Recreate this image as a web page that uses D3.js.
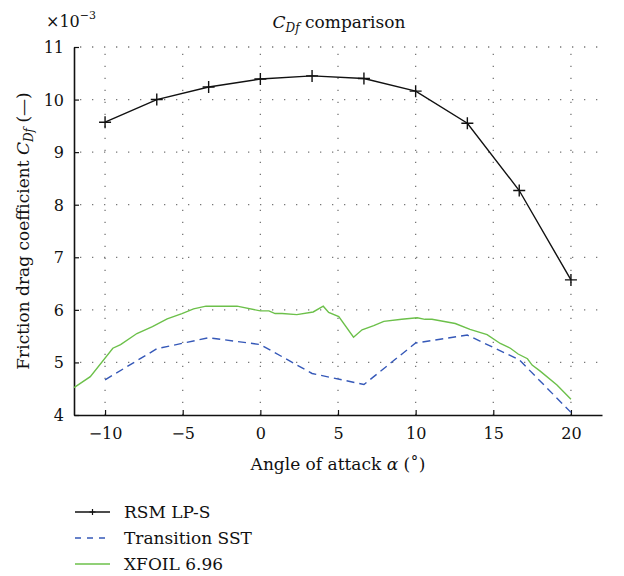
<!DOCTYPE html>
<html>
<head>
<meta charset="utf-8">
<script src="https://cdn.jsdelivr.net/npm/d3@7"></script>
<style>
  body { margin: 0; background: #fff; }
  #chart text { font-family: "DejaVu Serif", serif !important; fill: #111; }
</style>
</head>
<body>
<svg id="chart" width="624" height="576"></svg>
<script>
// angle of attack (deg) for the CFD runs
const alphaCfd = [-10, -6.67, -3.33, 0, 3.33, 6.67, 10, 13.33, 16.67, 20];
// friction drag coefficient, x1e-3
const rsmLPS = [9.57, 10.0, 10.24, 10.39, 10.45, 10.4, 10.16, 9.55, 8.27, 6.57];
const transSST = [4.67, 5.26, 5.47, 5.34, 4.79, 4.58, 5.37, 5.52, 5.05, 4.05];
// xfoil polar
const alphaXfoil = [-12, -10.95, -9.5, -9.0, -7.95, -6.95, -6.0, -5.05, -4.3, -3.5, -1.5, 0, 0.55, 0.95, 1.4, 2.35, 3.4, 4.05, 4.4, 5.05, 6.0, 6.55, 7.3, 7.95, 9.1, 10.1, 10.6, 11.05, 12.55, 13.5, 14.6, 15.45, 16.1, 16.6, 17.2, 17.5, 18.0, 19.1, 20];
const xfoil = [4.52, 4.73, 5.27, 5.34, 5.55, 5.68, 5.83, 5.93, 6.02, 6.07, 6.07, 5.98, 5.98, 5.93, 5.93, 5.91, 5.96, 6.07, 5.95, 5.87, 5.48, 5.62, 5.7, 5.78, 5.82, 5.85, 5.82, 5.82, 5.74, 5.63, 5.53, 5.36, 5.27, 5.16, 5.07, 4.95, 4.84, 4.57, 4.3];
const xTicks = [-10, -5, 0, 5, 10, 15, 20];
const yTicks = [4, 5, 6, 7, 8, 9, 10, 11];
const seriesNames = ['RSM LP-S', 'Transition SST', 'XFOIL 6.96'];

const margin = {left: 74, top: 47, right: 22, bottom: 161};
const W = 624, H = 576;
const FONT = '"DejaVu Serif", serif';
const svg = d3.select('#chart');

const x = d3.scaleLinear().domain([-12, 22]).range([margin.left, W - margin.right]);
const y = d3.scaleLinear().domain([4, 11]).range([H - margin.bottom, margin.top]);

// dotted grid
const grid = svg.append('g').attr('stroke', '#777').attr('stroke-width', 1.3).attr('stroke-dasharray', '1.3,10.7');
grid.selectAll('.gx').data(xTicks).join('line')
  .attr('x1', d => x(d)).attr('x2', d => x(d))
  .attr('y1', y(4)).attr('y2', y(11));
grid.selectAll('.gy').data(yTicks.slice(1)).join('line')
  .attr('x1', x(-12) + 6).attr('x2', x(22))
  .attr('y1', d => y(d)).attr('y2', d => y(d));

// axes
const xAxis = d3.axisBottom(x).tickValues(xTicks).tickSizeInner(-5).tickSizeOuter(0)
  .tickFormat(d => d < 0 ? '\u2212' + Math.abs(d) : d).tickPadding(13);
const gx = svg.append('g').attr('transform', `translate(0,${y(4)})`).call(xAxis);
const yAxis = d3.axisLeft(y).tickValues(yTicks).tickSizeInner(-5).tickSizeOuter(0)
  .tickFormat(d3.format('d')).tickPadding(10);
const gy = svg.append('g').attr('transform', `translate(${x(-12)},0)`).call(yAxis);
[gx, gy].forEach(g => {
  g.attr('font-family', FONT);
  g.select('.domain').attr('stroke', '#111').attr('stroke-width', 1.6);
  g.selectAll('.tick line').attr('stroke', '#111').attr('stroke-width', 1.2);
  g.selectAll('.tick text').attr('font-size', 16).attr('fill', '#111');
});
gy.selectAll('.tick text').attr('dy', '0.34em');

// lines
const line = (xs) => d3.line().x((d, i) => x(xs[i])).y(d => y(d));
svg.append('path').datum(xfoil).attr('d', line(alphaXfoil))
  .attr('fill', 'none').attr('stroke', '#6cc04a').attr('stroke-width', 1.4);
svg.append('path').datum(transSST).attr('d', line(alphaCfd))
  .attr('fill', 'none').attr('stroke', '#3558b8').attr('stroke-width', 1.4).attr('stroke-dasharray', '8,5');
svg.append('path').datum(rsmLPS).attr('d', line(alphaCfd))
  .attr('fill', 'none').attr('stroke', '#111').attr('stroke-width', 1.4);
svg.append('g').selectAll('path').data(rsmLPS).join('path')
  .attr('transform', (d, i) => `translate(${x(alphaCfd[i])},${y(d)})`)
  .attr('d', 'M-6,0H6M0,-6V6')
  .attr('stroke', '#111').attr('stroke-width', 1.4);

// title and labels
const title = svg.append('text').attr('x', 339).attr('y', 28).attr('text-anchor', 'middle')
  .attr('font-family', FONT).attr('font-size', 17);
title.append('tspan').attr('font-style', 'italic').text('C');
title.append('tspan').attr('font-style', 'italic').attr('font-size', 12).attr('dy', 4).text('Df');
title.append('tspan').attr('dy', -4).text(' comparison');

const mult = svg.append('text').attr('x', 46).attr('y', 27).attr('font-family', FONT).attr('font-size', 16);
mult.append('tspan').text('\u00d710');
mult.append('tspan').attr('font-size', 11).attr('dy', -8).text('\u22123');

svg.append('text').attr('x', 338).attr('y', 470).attr('text-anchor', 'middle')
  .attr('font-family', FONT).attr('font-size', 17)
  .html('Angle of attack <tspan font-style="italic">\u03b1</tspan> (\u02da)');

const yl = svg.append('text').attr('transform', 'translate(29,231) rotate(-90)')
  .attr('text-anchor', 'middle').attr('font-family', FONT).attr('font-size', 17);
yl.append('tspan').text('Friction drag coefficient ');
yl.append('tspan').attr('font-style', 'italic').text('C');
yl.append('tspan').attr('font-style', 'italic').attr('font-size', 12).attr('dy', 4).text('Df');
yl.append('tspan').attr('dy', -4).text(' (\u2014)');

// legend
const leg = svg.append('g').attr('font-family', FONT);
const legStyles = [
  {stroke: '#111', dash: null, marker: true},
  {stroke: '#3558b8', dash: '6,6', marker: false},
  {stroke: '#6cc04a', dash: null, marker: false}
];
seriesNames.forEach((name, i) => {
  const ly = 512 + i * 26;
  const s = legStyles[i];
  leg.append('line').attr('x1', 75).attr('x2', 110).attr('y1', ly).attr('y2', ly)
    .attr('stroke', s.stroke).attr('stroke-width', 1.4).attr('stroke-dasharray', s.dash);
  if (s.marker) leg.append('path').attr('d', `M${92.5 - 3},${ly}H${92.5 + 3}M92.5,${ly - 3}V${ly + 3}`)
    .attr('stroke', s.stroke).attr('stroke-width', 1.2);
  leg.append('text').attr('x', 124).attr('y', ly + 6).attr('font-size', 17).text(name);
});
</script>
</body>
</html>
